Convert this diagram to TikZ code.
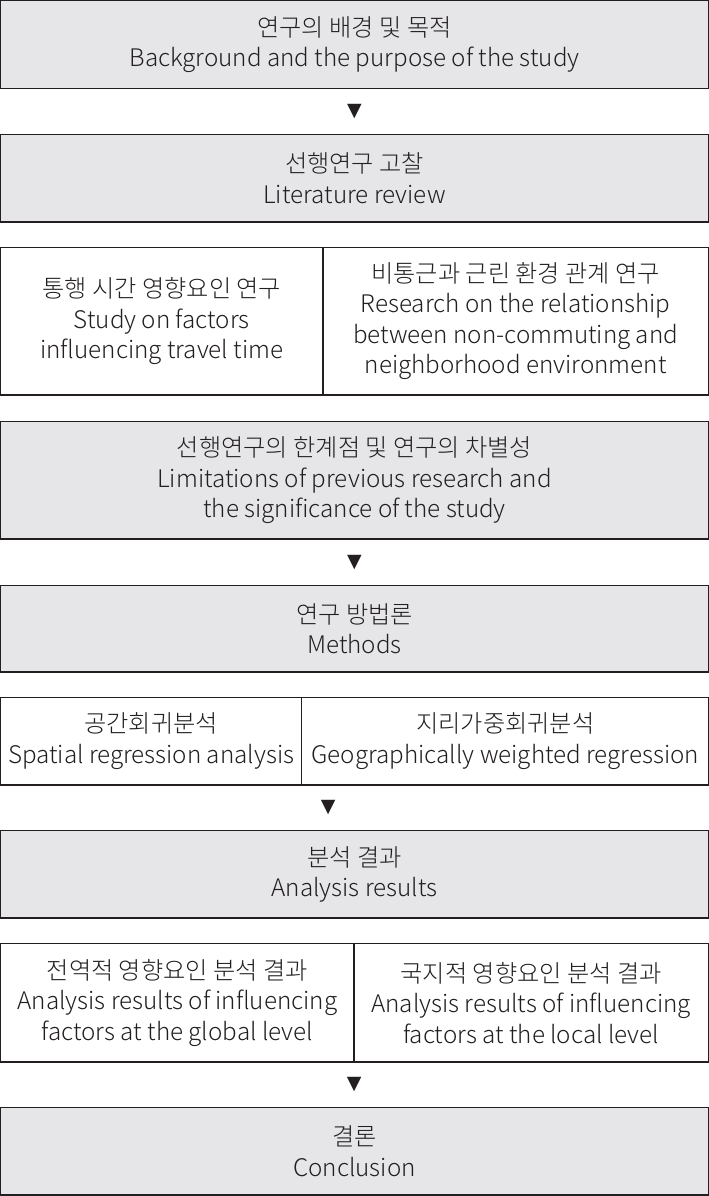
\documentclass[tikz,border=0pt]{standalone}
\usepackage{fontspec}
\setmainfont{Noto Sans CJK KR}[UprightFont=* Light]
\newfontfamily\markfont{DejaVu Sans}
\usetikzlibrary{positioning, calc}
\definecolor{boxgray}{RGB}{230,230,232}
\definecolor{inkgray}{RGB}{35,31,32}
\tikzset{
x=1pt, y=1pt, % one unit is one pixel of the page
every node/.style={text=inkgray, font=\fontsize{24.2}{30.5}\selectfont, align=center, inner sep=0pt},
box/.style={draw=inkgray, line width=1.3pt, outer sep=0pt, minimum height=87.5pt}, % the frame of every step
graybox/.style={box, fill=boxgray, minimum width=707.7pt}, % full width steps
whitebox/.style={box, fill=white}, % half width steps
marker/.style={font=\markfont\fontsize{19}{19}\selectfont}, % the arrow between steps
}

\begin{document}
\begin{tikzpicture}
    \useasboundingbox (0,0) rectangle (709,-1196);
    \node[graybox, minimum height=88pt] (bg) at (354.5,-44.5) {연구의 배경 및 목적\\Background and the purpose of the study};
    \node[graybox, below=46pt of bg] (lit) {선행연구 고찰\\Literature review};
    \node[whitebox, minimum width=322.35pt, minimum height=147.5pt, below=25.5pt of lit.south west, anchor=north west] (travel) {통행 시간 영향요인 연구\\Study on factors\\influencing travel time};
    \node[whitebox, minimum width=385.35pt, minimum height=147.5pt, right=0pt of travel] (noncom) {비통근과 근린 환경 관계 연구\\Research on the relationship\\between non-commuting and\\neighborhood environment};
    \node[graybox, minimum height=117.5pt, below=26.5pt of travel.south west, anchor=north west] (limit) {선행연구의 한계점 및 연구의 차별성\\Limitations of previous research and\\the significance of the study};
    \node[graybox, minimum height=86.5pt, below=46.5pt of limit] (method) {연구 방법론\\Methods};
    \node[whitebox, minimum width=301pt, below=25.5pt of method.south west, anchor=north west] (spatial) {공간회귀분석\\Spatial regression analysis};
    \node[whitebox, minimum width=407.35pt, right=0pt of spatial] (gwr) {지리가중회귀분석\\Geographically weighted regression};
    \node[graybox, below=45.5pt of spatial.south west, anchor=north west] (result) {분석 결과\\Analysis results};
    \node[whitebox, minimum width=353.35pt, minimum height=118.5pt, below=25.5pt of result.south west, anchor=north west] (global) {전역적 영향요인 분석 결과\\Analysis results of influencing\\factors at the global level};
    \node[whitebox, minimum width=354.35pt, minimum height=118.5pt, right=0pt of global] (local) {국지적 영향요인 분석 결과\\Analysis results of influencing\\factors at the local level};
    \node[graybox, below=45.5pt of global.south west, anchor=north west] (concl) {결론\\Conclusion};
    \node[marker] (m1) at ($(bg.south)!0.5!(lit.north)$) {▼};
    \node[marker] (m2) at ($(limit.south)!0.5!(method.north)$) {▼};
    \node[marker] (m3) at ($(spatial.south east)!0.5!(result.north)$) {▼};
    \node[marker] (m4) at ($(global.south east)!0.5!(concl.north)$) {▼};
\end{tikzpicture}
\end{document}
